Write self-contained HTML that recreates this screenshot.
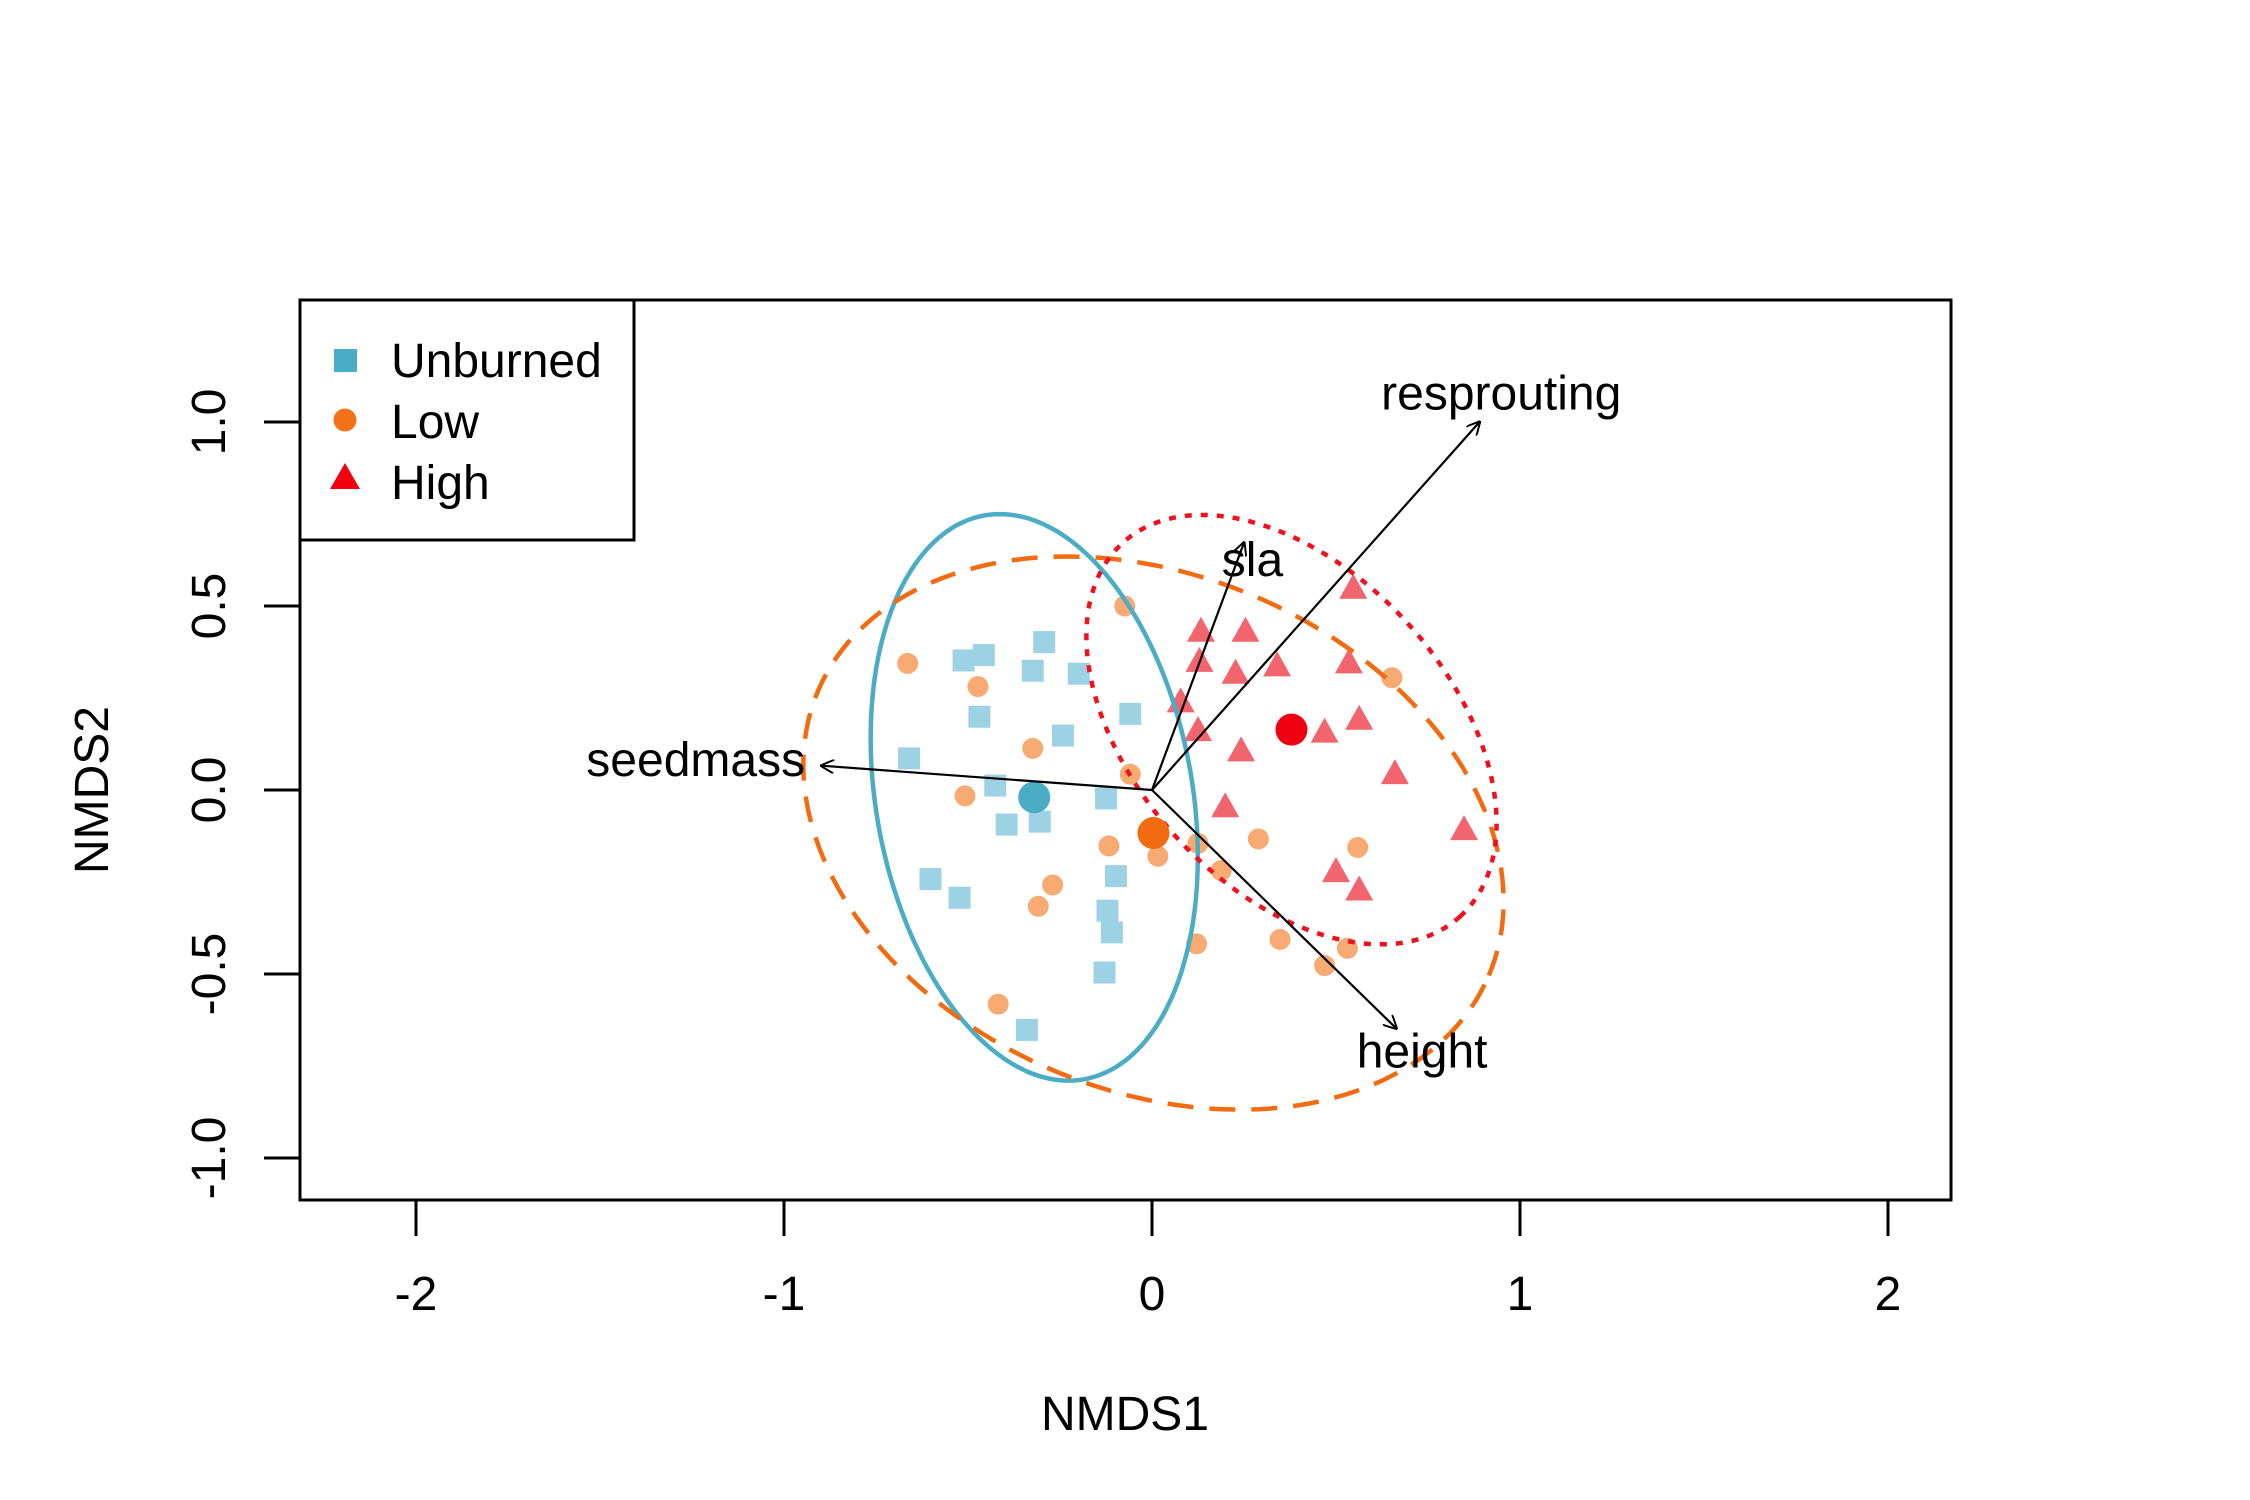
<!DOCTYPE html>
<html><head><meta charset="utf-8"><style>
html,body{margin:0;padding:0;background:#fff;}
svg{display:block;font-family:"Liberation Sans",Arial,sans-serif;}
</style></head><body>
<svg id="chart" width="2250" height="1500" viewBox="0 0 2250 1500">
<defs>
<marker id="ah" viewBox="0 0 10 10" refX="9" refY="5" markerWidth="14" markerHeight="14" markerUnits="userSpaceOnUse" orient="auto"><path d="M0,0 L10,5 L0,10" fill="none" stroke="#000" stroke-width="1.4"/></marker>
<clipPath id="pc"><rect x="300" y="300" width="1651" height="900"/></clipPath>
</defs>
<g id="plot" clip-path="url(#pc)"></g>
<rect x="300" y="300" width="1651" height="900" fill="none" stroke="#000" stroke-width="3"/>
<g id="axes"></g>
<text x="1125" y="1430" font-size="48" text-anchor="middle">NMDS1</text>
<text x="0" y="0" font-size="48" text-anchor="middle" transform="translate(108,790) rotate(-90)">NMDS2</text>
<g>
<rect x="300" y="300" width="334" height="240" fill="#fff" stroke="#000" stroke-width="3"/>
<rect x="334" y="349" width="23" height="23" fill="#4BACC6"/>
<text x="391" y="377" font-size="48">Unburned</text>
<circle cx="345" cy="420" r="11.5" fill="#F47216"/>
<text x="391" y="438" font-size="48">Low</text>
<polygon points="330,489 360,489 345,463" fill="#F20010"/>
<text x="391" y="499" font-size="48">High</text>
</g>
</svg>
<script>
const unburnedX=[-0.512,-0.457,-0.293,-0.324,-0.199,-0.469,-0.242,-0.059,-0.660,-0.426,-0.125,-0.305,-0.395,-0.602,-0.523,-0.098,-0.121,-0.109,-0.129,-0.340];
const unburnedY=[0.352,0.367,0.402,0.324,0.316,0.199,0.148,0.207,0.086,0.012,-0.023,-0.086,-0.094,-0.242,-0.293,-0.234,-0.328,-0.387,-0.496,-0.652];
const lowX=[-0.664,-0.074,-0.473,-0.324,-0.059,-0.508,-0.117,0.016,0.125,0.289,0.188,-0.270,-0.309,0.559,0.652,0.121,0.348,0.531,0.469,-0.418];
const lowY=[0.344,0.5,0.281,0.113,0.043,-0.016,-0.152,-0.180,-0.145,-0.133,-0.219,-0.258,-0.316,-0.156,0.305,-0.418,-0.406,-0.430,-0.477,-0.582];
const highX=[0.547,0.133,0.254,0.129,0.227,0.340,0.535,0.078,0.563,0.125,0.469,0.242,0.660,0.199,0.848,0.5,0.563];
const highY=[0.547,0.430,0.430,0.348,0.316,0.336,0.344,0.238,0.191,0.160,0.156,0.105,0.043,-0.047,-0.109,-0.223,-0.273];
const centroidX=[-0.320,0.004,0.379];
const centroidY=[-0.020,-0.117,0.164];
const ellipseA=[0.778,0.99,0.684];
const ellipseB=[0.430,0.70,0.428];
const ellipseRot=[-80,-23,-48];
const arrowNames=["seedmass","sla","resprouting","height"];
const arrowX=[-0.898,0.25,0.89,0.664];
const arrowY=[0.066,0.672,1.0,-0.648];
const arrowLabelX=[-1.24,0.273,0.949,0.734];
const arrowLabelY=[0.082,0.625,1.078,-0.711];
const xTicks=[-2,-1,0,1,2];
const xTickLabels=["-2","-1","0","1","2"];
const yTicks=[-1,-0.5,0,0.5,1];
const yTickLabels=["-1.0","-0.5","0.0","0.5","1.0"];

const NS="http://www.w3.org/2000/svg";
const X0=1152,Y0=790,S=368;
function sx(v){return X0+v*S;}
function sy(v){return Y0-v*S;}
const plot=document.getElementById('plot');
const axes=document.getElementById('axes');
function mk(tag,attrs,parent){const e=document.createElementNS(NS,tag);for(const k in attrs)e.setAttribute(k,attrs[k]);parent.appendChild(e);return e;}

for(let i=0;i<unburnedX.length;i++){
  const e=mk('rect',{x:sx(unburnedX[i])-11,y:sy(unburnedY[i])-11,width:22,height:22,fill:'#9DD1E4'},plot);
  
  
}
for(let i=0;i<lowX.length;i++){
  const e=mk('circle',{cx:sx(lowX[i]),cy:sy(lowY[i]),r:10.5,fill:'#F7AA72'},plot);
  
  
}
for(let i=0;i<highX.length;i++){
  const cx=sx(highX[i]),cy=sy(highY[i]);
  const e=mk('polygon',{points:(cx-14)+','+(cy+10)+' '+(cx+14)+','+(cy+10)+' '+cx+','+(cy-15),fill:'#F2656F'},plot);
  
  
}
const eCol=['#4BACC6','#F26B10','#F0101E'];
const eDash=['none','26,16','7,9'];
const eNames=['unburned-ellipse','low-ellipse','high-ellipse'];
for(let g=0;g<3;g++){
  let d='';const r=ellipseRot[g]*Math.PI/180;
  for(let k=0;k<=200;k++){const t=k/200*2*Math.PI;
    const ux=ellipseA[g]*Math.cos(t),uy=ellipseB[g]*Math.sin(t);
    const x=centroidX[g]+ux*Math.cos(r)-uy*Math.sin(r);
    const y=centroidY[g]+ux*Math.sin(r)+uy*Math.cos(r);
    d+=(k?'L':'M')+sx(x).toFixed(1)+','+sy(y).toFixed(1);}
  const e=mk('path',{d:d+'Z',fill:'none',stroke:eCol[g],'stroke-width':4.5,'stroke-dasharray':eDash[g]},plot);
  
  
}
const cCol=['#4BACC6','#F26B10','#EE0010'];
const cNames=['unburned-centroid','low-centroid','high-centroid'];
for(let g=0;g<3;g++){
  const e=mk('circle',{cx:sx(centroidX[g]),cy:sy(centroidY[g]),r:16,fill:cCol[g]},plot);
  
  
}
for(let i=0;i<arrowX.length;i++){
  const e=mk('line',{x1:sx(0),y1:sy(0),x2:sx(arrowX[i]),y2:sy(arrowY[i]),stroke:'#000','stroke-width':2.2,'marker-end':'url(#ah)'},plot);
  
  
  const t=mk('text',{x:sx(arrowLabelX[i]),y:sy(arrowLabelY[i])+16,'font-size':48,'text-anchor':'middle'},plot);
  t.textContent=arrowNames[i];
  
  
}
for(let i=0;i<xTicks.length;i++){
  const e=mk('line',{x1:sx(xTicks[i]),y1:1200,x2:sx(xTicks[i]),y2:1236,stroke:'#000','stroke-width':3},axes);
  
  
  const t=mk('text',{x:sx(xTicks[i]),y:1310,'font-size':48,'text-anchor':'middle'},axes);
  t.textContent=xTickLabels[i];
  
  
}
for(let i=0;i<yTicks.length;i++){
  const e=mk('line',{x1:264,y1:sy(yTicks[i]),x2:300,y2:sy(yTicks[i]),stroke:'#000','stroke-width':3},axes);
  
  
  const t=mk('text',{x:0,y:0,'font-size':48,'text-anchor':'middle',transform:'translate(225,'+sy(yTicks[i])+') rotate(-90)'},axes);
  t.textContent=yTickLabels[i];
  
  
}
</script>
</body></html>
